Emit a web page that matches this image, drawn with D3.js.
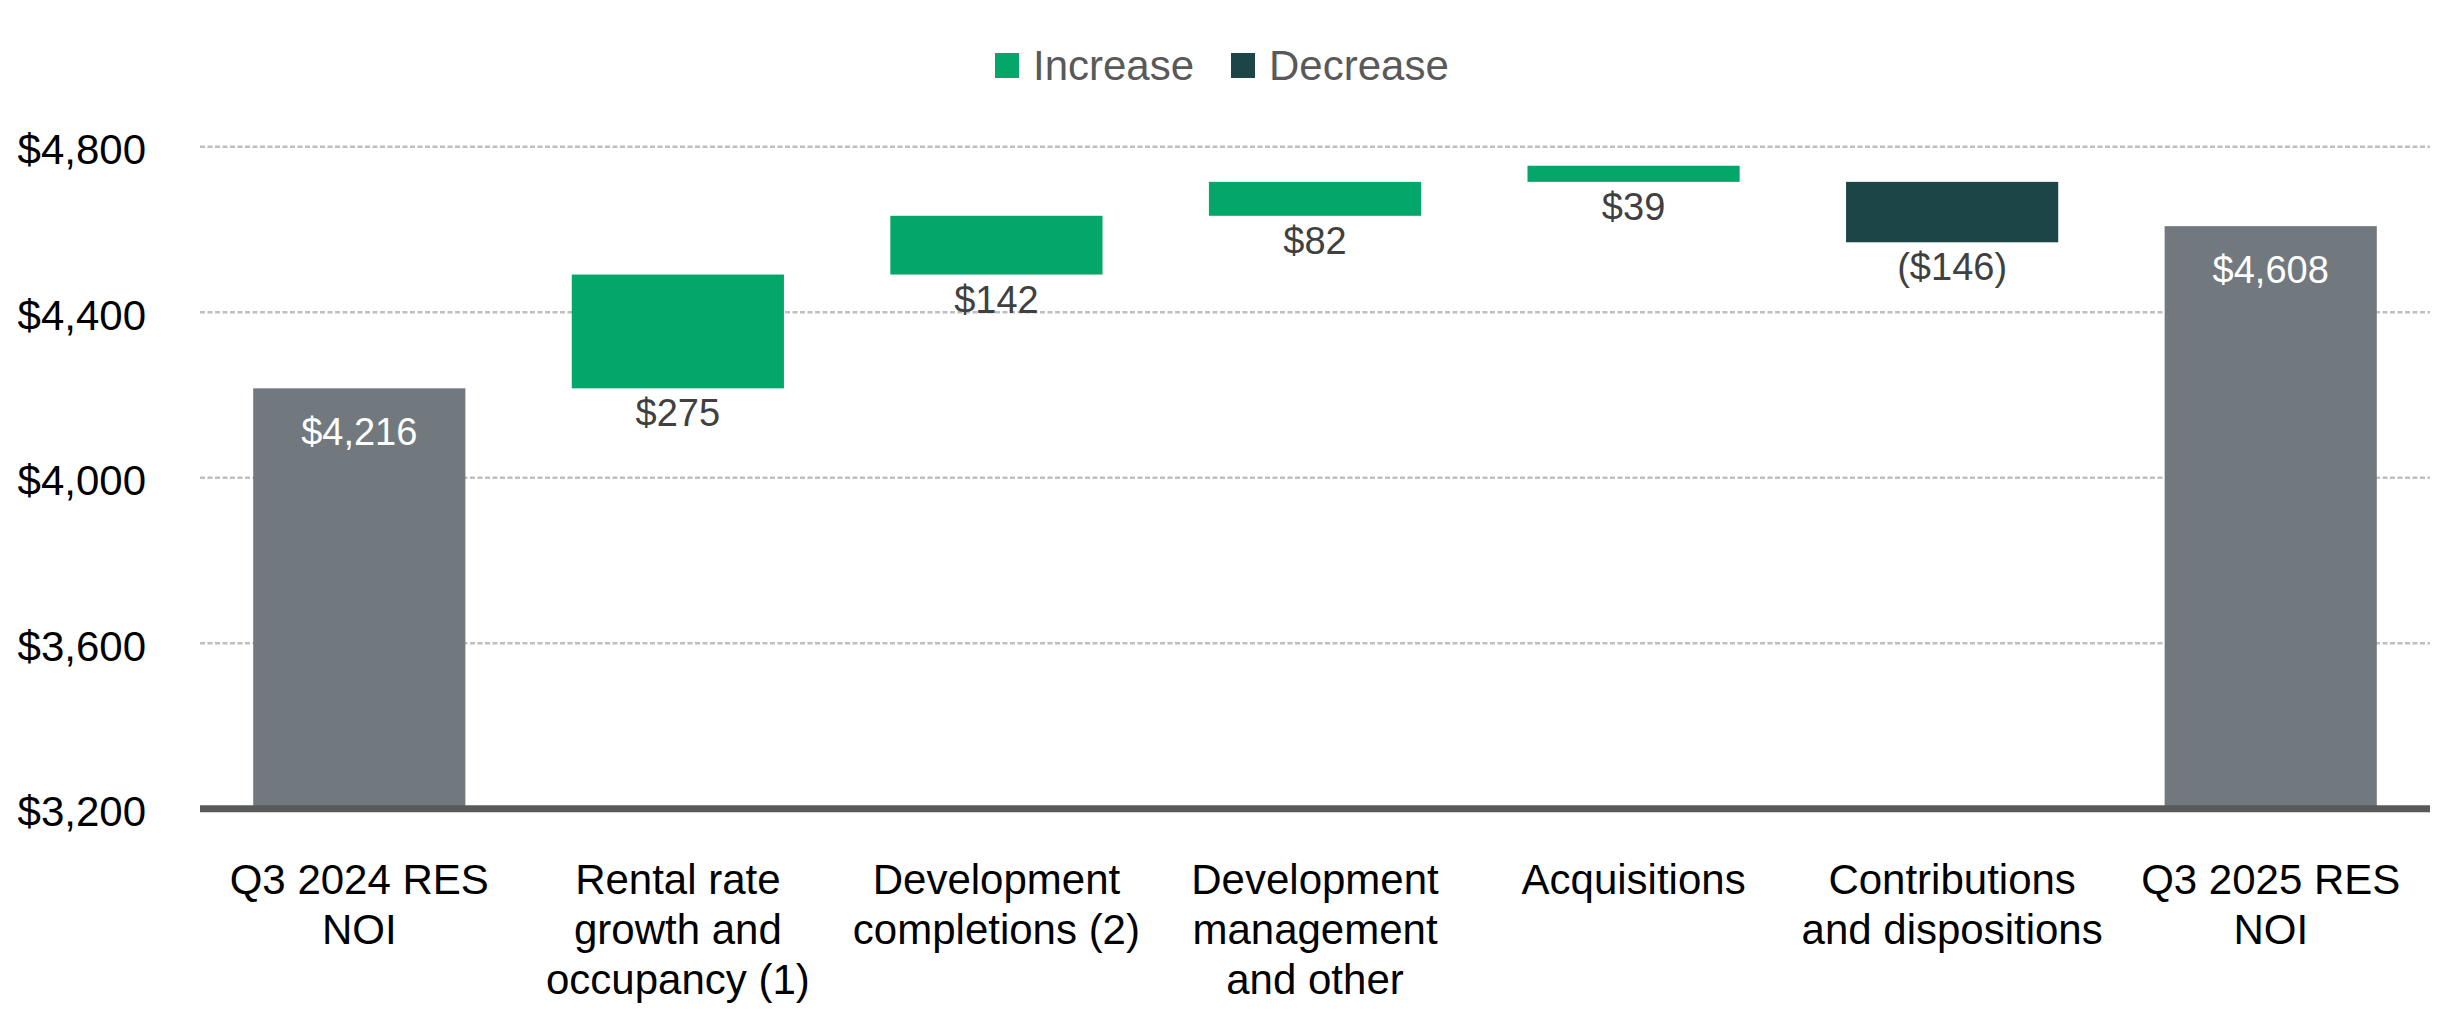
<!DOCTYPE html>
<html>
<head>
<meta charset="utf-8">
<script src="https://cdn.jsdelivr.net/npm/d3@7"></script>
<style>
  body { margin: 0; background: #fff; }
  text { font-family: "Liberation Sans", Arial, sans-serif; }
</style>
</head>
<body>
<div id="chart"></div>
<script>
// Data
var categories = [
    ["Q3 2024 RES", "NOI"],
    ["Rental rate", "growth and", "occupancy (1)"],
    ["Development", "completions (2)"],
    ["Development", "management", "and other"],
    ["Acquisitions"],
    ["Contributions", "and dispositions"],
    ["Q3 2025 RES", "NOI"]
];
var barType = ["total", "inc", "inc", "inc", "inc", "dec", "total"];
var barValues = [4216, 275, 142, 82, 39, -146, 4608];
// level each bar starts from (as drawn in the source)
var barBase = [0, 4216, 4491, 4633, 4715, 4715, 0];
var valueLabels = ["$4,216", "$275", "$142", "$82", "$39", "($146)", "$4,608"];
var yTicks = [3200, 3600, 4000, 4400, 4800];
var legendItems = ["Increase", "Decrease"];

var svgWidth = 2438;
var svgHeight = 1022;

var colors = { total: "#72797e", inc: "#03a76a", dec: "#1b4547" };

var svg = d3.select("#chart")
    .append("svg")
    .attr("width", svgWidth)
    .attr("height", svgHeight);

// Scales
var xScale = d3.scaleBand()
    .domain(d3.range(categories.length))
    .range([200, 2430])
    .paddingInner(0.334)
    .paddingOuter(0.167);

var yScale = d3.scaleLinear()
    .domain([3200, 4800])
    .range([808.7, 146.7]);

// Gridlines
svg.append("g")
    .selectAll("line")
    .data(yTicks.slice(1))
    .enter()
    .append("line")
    .attr("x1", 200)
    .attr("x2", 2430)
    .attr("y1", d => yScale(d))
    .attr("y2", d => yScale(d))
    .attr("stroke", "#bfbfbf")
    .attr("stroke-width", 2.5)
    .attr("stroke-dasharray", "5,2.5");

// Y axis labels
var leftAxis = d3.axisLeft(yScale)
    .tickValues(yTicks)
    .tickSize(0)
    .tickPadding(0)
    .tickFormat(d => "$" + d3.format(",")(d));

var yAxisG = svg.append("g")
    .attr("transform", "translate(146,0)")
    .call(leftAxis);
yAxisG.select(".domain").remove();
yAxisG.selectAll("text")
    .attr("font-family", "'Liberation Sans', Arial, sans-serif")
    .attr("font-size", 42)
    .attr("fill", "#000")
    .attr("dy", "0.4em");

// Bars
function barLow(d, i) {
    return d3.min([barBase[i], barBase[i] + barValues[i]]);
}
function barHigh(d, i) {
    return d3.max([barBase[i], barBase[i] + barValues[i]]);
}

svg.append("g")
    .selectAll("rect")
    .data(barValues)
    .enter()
    .append("rect")
    .attr("x", (d, i) => xScale(i))
    .attr("width", xScale.bandwidth())
    .attr("y", (d, i) => yScale(barHigh(d, i)))
    .attr("height", (d, i) => yScale(Math.max(3200, barLow(d, i))) - yScale(barHigh(d, i)))
    .attr("fill", (d, i) => colors[barType[i]]);

// Value labels
svg.append("g")
    .selectAll("text")
    .data(valueLabels)
    .enter()
    .append("text")
    .attr("x", (d, i) => xScale(i) + xScale.bandwidth() / 2)
    .attr("y", (d, i) => barType[i] == "total"
        ? yScale(barHigh(null, i)) + 57
        : yScale(barLow(null, i)) + 38)
    .attr("text-anchor", "middle")
    .attr("font-size", 38)
    .attr("fill", (d, i) => barType[i] == "total" ? "#ffffff" : "#404040")
    .text(d => d);

// Baseline
svg.append("line")
    .attr("x1", 200)
    .attr("x2", 2430)
    .attr("y1", yScale(3200))
    .attr("y2", yScale(3200))
    .attr("stroke", "#58595b")
    .attr("stroke-width", 7);

// Category labels
var catG = svg.append("g")
    .selectAll("text")
    .data(categories)
    .enter()
    .append("text")
    .attr("text-anchor", "middle")
    .attr("font-size", 42)
    .attr("fill", "#000");

catG.selectAll("tspan")
    .data((d, i) => d.map(line => ({ line: line, i: i })))
    .enter()
    .append("tspan")
    .attr("x", d => xScale(d.i) + xScale.bandwidth() / 2)
    .attr("y", (d, j) => 894 + j * 50)
    .text(d => d.line);

// Legend
var legendX = [995, 1231];
var legendColors = [colors.inc, colors.dec];
var legend = svg.append("g")
    .selectAll("g")
    .data(legendItems)
    .enter()
    .append("g")
    .attr("transform", (d, i) => `translate(${legendX[i]}, 53)`);

legend.append("rect")
    .attr("width", 24)
    .attr("height", 25)
    .attr("fill", (d, i) => legendColors[i]);

legend.append("text")
    .attr("x", 38)
    .attr("y", 27)
    .attr("font-size", 42)
    .attr("fill", "#595959")
    .text(d => d);
</script>
</body>
</html>
